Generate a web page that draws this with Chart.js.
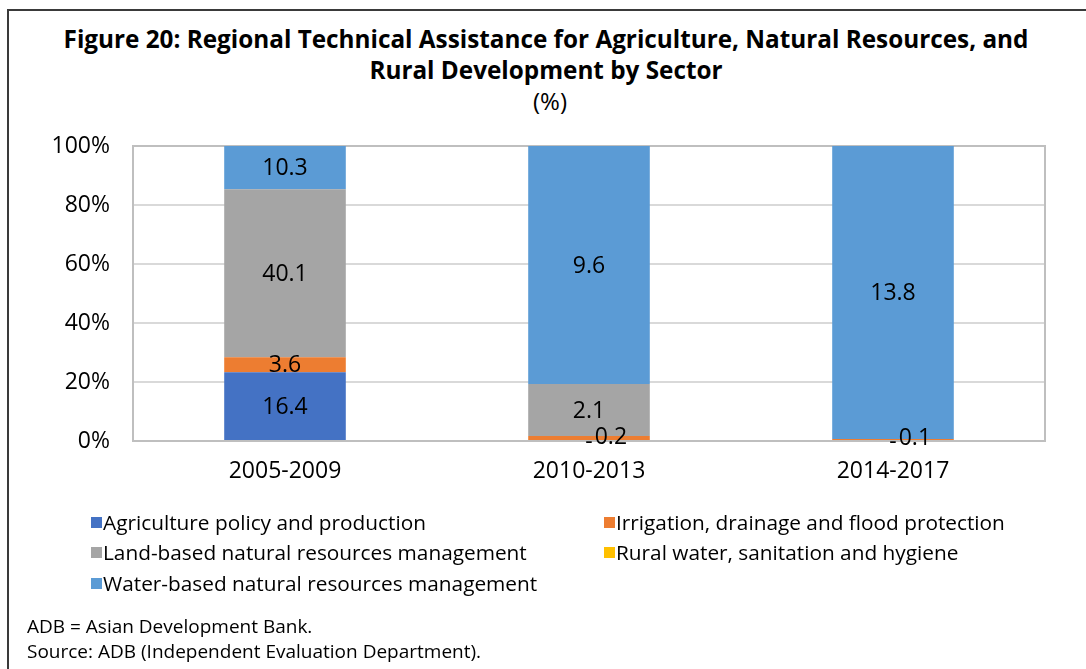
<!DOCTYPE html>
<html>
<head>
<meta charset="utf-8">
<script src="https://cdn.jsdelivr.net/npm/chart.js@4.4.1/dist/chart.umd.min.js"></script>
<style>
  html, body { margin: 0; padding: 0; background: #fff; width: 1086px; height: 669px; overflow: hidden; }
  #frame { position: absolute; left: 7px; top: 9px; width: 1200px; height: 800px; border-left: 2px solid #3a3a3a; border-top: 2px solid #3a3a3a; }
  #title { position: absolute; left: 0; width: 1092px; top: 24px; text-align: center; font-family: "Open Sans", sans-serif; color: #000; }
  #title .t { font-weight: 700; font-size: 24.3px; line-height: 30.5px; }
  #title .s { font-size: 24px; line-height: 31px; margin-left: 8px; }
  #chartWrap { position: absolute; left: 0; top: 0; width: 1086px; height: 669px; }
  #legend { position: absolute; left: 0; top: 0; font-family: "Open Sans", sans-serif; font-size: 20.8px; color: #000; }
  .li { position: absolute; white-space: nowrap; line-height: 24px; }
  .sw { position: absolute; width: 11px; height: 11px; }
  #notes { position: absolute; left: 27px; top: 614px; font-family: "Open Sans", sans-serif; font-size: 19px; line-height: 25px; color: #000; }
</style>
</head>
<body>
<div id="frame"></div>
<div id="title">
  <div class="t">Figure 20: Regional Technical Assistance for Agriculture, Natural Resources, and</div>
  <div class="t">Rural Development by Sector</div>
  <div class="s">(%)</div>
</div>
<div id="chartWrap"><canvas id="c" width="1086" height="669"></canvas></div>
<div id="legend"></div>
<div id="notes">
  <div>ADB = Asian Development Bank.</div>
  <div>Source: ADB (Independent Evaluation Department).</div>
</div>
<script>
// ---- data ----
const categories = ['2005-2009', '2010-2013', '2014-2017'];
const seriesNames = [
  'Agriculture policy and production',
  'Irrigation, drainage and flood protection',
  'Land-based natural resources management',
  'Rural water, sanitation and hygiene',
  'Water-based natural resources management'
];
const agriculture = [16.4, 0, 0];
const irrigation  = [3.6, 0.2, 0.1];
const landBased   = [40.1, 2.1, null];
const ruralWater  = [null, null, null];
const waterBased  = [10.3, 9.6, 13.8];
const yTickValues = [0, 20, 40, 60, 80, 100];
const seriesColors = ['#4472C4', '#ED7D31', '#A5A5A5', '#FFC000', '#5B9BD5'];

const rawSeries = [agriculture, irrigation, landBased, ruralWater, waterBased];
const totals = categories.map((_, i) => rawSeries.reduce((s, arr) => s + (arr[i] || 0), 0));

const datasets = rawSeries.map((arr, k) => ({
  label: seriesNames[k],
  raw: arr,
  data: arr.map((v, i) => v == null ? null : v / totals[i] * 100),
  backgroundColor: seriesColors[k],
  borderWidth: 0,
  categoryPercentage: 1.0,
  barPercentage: 0.4
}));

const LABEL_FONT = '23px "Open Sans", sans-serif';

const plotBorder = {
  id: 'plotBorder',
  beforeDatasetsDraw(chart) {
    const a = chart.chartArea, ctx = chart.ctx;
    ctx.save();
    ctx.strokeStyle = '#bfbfbf';
    ctx.lineWidth = 2;
    ctx.strokeRect(a.left, a.top, a.right - a.left, a.bottom - a.top);
    ctx.restore();
  }
};

const barLabels = {
  id: 'barLabels',
  afterDatasetsDraw(chart) {
    const ctx = chart.ctx;
    ctx.save();
    ctx.font = LABEL_FONT;
    ctx.fillStyle = '#000';
    ctx.textAlign = 'left';
    ctx.textBaseline = 'middle';
    const boxes = categories.map(() => []);
    chart.data.datasets.forEach((ds, di) => {
      const meta = chart.getDatasetMeta(di);
      meta.data.forEach((el, i) => {
        const v = ds.raw[i];
        if (v == null) return;
        const txt = v === 0 ? '-' : v.toFixed(1);
        const w = ctx.measureText(txt).width;
        let x = el.x - w / 2;
        let y = (el.y + el.base) / 2 + 1;
        const h = 20;
        for (const b of boxes[i]) {
          const overlapX = x < b.x + b.w && x + w > b.x;
          const overlapY = Math.abs(y - b.y) < h;
          if (overlapX && overlapY) { x = b.x + b.w + 2; y -= 2; }
        }
        boxes[i].push({ x, y, w });
        ctx.fillText(txt, x, y);
      });
    });
    ctx.restore();
  }
};

const chart = new Chart(document.getElementById('c'), {
  type: 'bar',
  data: { labels: categories, datasets },
  plugins: [plotBorder, barLabels],
  options: {
    responsive: false,
    animation: false,
    events: [],
    layout: { padding: { left: 0, top: 146, right: 41, bottom: 0 } },
    plugins: { legend: { display: false }, title: { display: false }, tooltip: { enabled: false } },
    scales: {
      x: {
        stacked: true,
        afterFit(scale) { scale.height = 669 - 146 - 295; },
        grid: { display: false, drawTicks: false },
        border: { display: false },
        ticks: { color: '#000', font: { family: 'Open Sans', size: 23 }, padding: 17 }
      },
      y: {
        stacked: true,
        min: 0, max: 100,
        afterFit(scale) { scale.width = 133; },
        afterBuildTicks(scale) { scale.ticks = yTickValues.map(v => ({ value: v })); },
        grid: { color: '#d9d9d9', lineWidth: 2, drawTicks: false },
        border: { display: false },
        ticks: { color: '#000', font: { family: 'Open Sans', size: 23 }, padding: 23, callback: v => v + '%' }
      }
    }
  }
});

// HTML legend built from the chart's datasets
const legendPos = [
  { x: 91, y: 510 }, { x: 604, y: 510 },
  { x: 91, y: 540 }, { x: 604, y: 540 },
  { x: 91, y: 571 }
];
const legend = document.getElementById('legend');
chart.data.datasets.forEach((ds, k) => {
  const p = legendPos[k];
  const sw = document.createElement('div');
  sw.className = 'sw';
  sw.style.left = p.x + 'px';
  sw.style.top = (p.y + 7) + 'px';
  sw.style.background = ds.backgroundColor;
  legend.appendChild(sw);
  const t = document.createElement('div');
  t.className = 'li';
  t.style.left = (p.x + 12) + 'px';
  t.style.top = p.y + 'px';
  t.textContent = ds.label;
  legend.appendChild(t);
});
</script>
</body>
</html>
